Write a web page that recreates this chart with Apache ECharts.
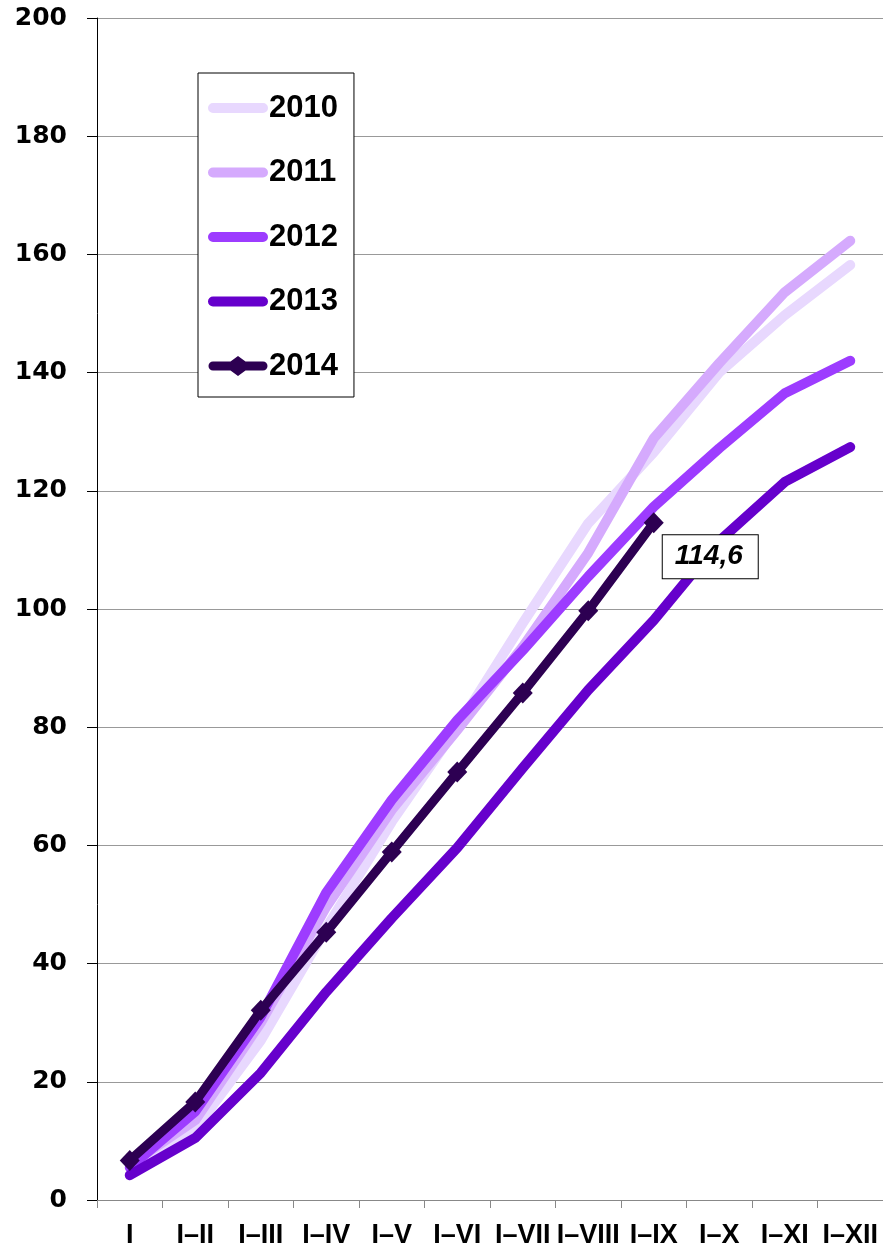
<!DOCTYPE html>
<html><head><meta charset="utf-8">
<script src="https://cdn.jsdelivr.net/npm/echarts@6/dist/echarts.min.js"></script>
<style>html,body{margin:0;padding:0;background:#fff}#c{width:883px;height:1246px}</style>
</head><body><div id="c"></div>
<script>
const categories = ['I','I–II','I–III','I–IV','I–V','I–VI','I–VII','I–VIII','I–IX','I–X','I–XI','I–XII'];
const s2010 = [6, 12, 27, 46, 64, 80, 97.6, 114.5, 126.5, 140, 149.7, 158.2];
const s2011 = [6, 13.5, 30, 49.6, 66, 79.5, 93.6, 109.5, 128.9, 141.6, 153.6, 162.3];
const s2012 = [5.5, 15, 31, 52, 67.7, 81.2, 93, 105.5, 117.3, 127.2, 136.5, 142];
const s2013 = [4.2, 10.5, 21.5, 35.2, 47.7, 59.6, 73.1, 86.3, 98.1, 111.5, 121.5, 127.4];
const s2014 = [6.7, 16.6, 32.1, 45.3, 58.9, 72.4, 85.8, 99.7, 114.6];
const yTicks = [0, 20, 40, 60, 80, 100, 120, 140, 160, 180, 200];
const names = ['2010','2011','2012','2013','2014'];
const colors = ['#E8D8FE','#D5AAFD','#9D3CFF','#6600CC','#2D0052'];

const chart = echarts.init(document.getElementById('c'));
const arial = 'Liberation Sans, Arial, sans-serif';
const dejavu = 'DejaVu Sans, sans-serif';
// legend icon shapes (60x20 boxes)
const bboxPts = 'M0,0L0.001,0M0,20L0.001,20M60,0L59.999,0M60,20L59.999,20';
const lineIcon = 'path://' + bboxPts + 'M5,5L55,5A5,5 0 0 1 55,15L5,15A5,5 0 0 1 5,5Z';
const diamondIcon = 'path://' + bboxPts + 'M5,5.5L22.5,5.5L30,0L37.5,5.5L55,5.5A4.5,4.5 0 0 1 55,14.5L37.5,14.5L30,20L22.5,14.5L5,14.5A4.5,4.5 0 0 1 5,5.5Z';

function line(name, data, color, extra) {
  return Object.assign({
    name, type: 'line', data, symbol: 'none', color,
    lineStyle: { width: 10, color, cap: 'round', join: 'round' },
    emphasis: { disabled: true }, animation: false
  }, extra || {});
}
const last = s2014.length - 1;
const s2014Data = s2014.map((v, i) => i === last ? { value: v, label: { show: true } } : v);

chart.setOption({
  animation: false,
  grid: { left: 97, right: 0, top: 18, bottom: 46, containLabel: false, outerBoundsMode: 'none' },
  legend: {
    orient: 'vertical', left: 198, top: 73,
    padding: [19, 16, 15, 10], itemGap: 32.5,
    itemWidth: 60, itemHeight: 20, symbolKeepAspect: false,
    itemStyle: { borderWidth: 0 },
    borderColor: '#000', borderWidth: 1, backgroundColor: '#fff', borderRadius: 0,
    textStyle: { fontFamily: arial, fontSize: 31, fontWeight: 'bold', color: '#000', lineHeight: 32, padding: [0,0,0,-4] },
    data: names.map((n, i) => ({ name: n, icon: i === 4 ? diamondIcon : lineIcon }))
  },
  xAxis: {
    type: 'category', data: categories, boundaryGap: true,
    axisLine: { lineStyle: { color: '#888', width: 1 } },
    axisTick: { show: true, length: 8, lineStyle: { color: '#888' } },
    axisLabel: { interval: 0, margin: 22, fontFamily: arial, fontSize: 27, fontWeight: 'bold', color: '#000' },
    splitLine: { show: false }
  },
  yAxis: {
    type: 'value', min: 0, max: 200, interval: 20,
    axisLine: { show: true, lineStyle: { color: '#000', width: 1 } },
    axisTick: { show: true, length: 10, lineStyle: { color: '#000' } },
    axisLabel: { margin: 30, fontFamily: dejavu, fontSize: 25, fontWeight: 'bold', color: '#000',
      customValues: yTicks },
    splitLine: { show: true, lineStyle: { color: '#999', width: 1 } }
  },
  series: [
    line(names[0], s2010, colors[0]),
    line(names[1], s2011, colors[1]),
    line(names[2], s2012, colors[2]),
    line(names[3], s2013, colors[3]),
    line(names[4], s2014Data, colors[4], {
      symbol: 'diamond', symbolSize: [20, 21], showSymbol: true,
      itemStyle: { color: colors[4], borderWidth: 0 },
      lineStyle: { width: 9, color: colors[4], cap: 'round', join: 'round' },
      label: {
        show: false, position: 'right', distance: 0,
        offset: [-1, 34],
        formatter: p => String(p.value).replace('.', ','),
        fontFamily: arial, fontSize: 28, lineHeight: 28, fontWeight: 'bold', fontStyle: 'italic', color: '#000',
        backgroundColor: '#fff', borderColor: '#000', borderWidth: 1,
        padding: [8, 15, 7, 12]
      }
    })
  ]
});
</script></body></html>
